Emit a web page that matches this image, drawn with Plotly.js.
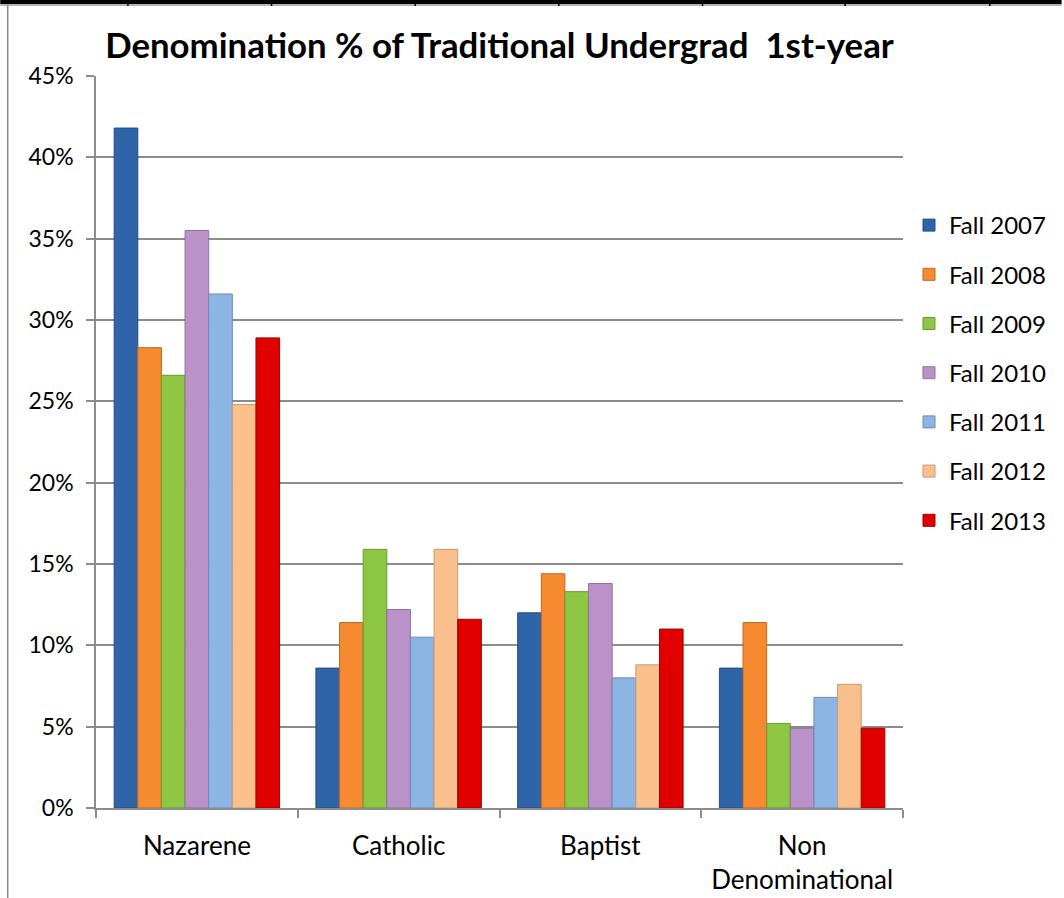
<!DOCTYPE html>
<html>
<head>
<meta charset="utf-8">
<script src="https://cdn.plot.ly/plotly-3.0.1.min.js"></script>
<style>
html,body{margin:0;padding:0;background:#fff;}
#chart{width:1064px;height:898px;}
</style>
</head>
<body>
<div id="chart"></div>
<script>
const categories = ["Nazarene", "Catholic", "Baptist", "Non<br>Denominational"];
const seriesNames = ["Fall 2007", "Fall 2008", "Fall 2009", "Fall 2010", "Fall 2011", "Fall 2012", "Fall 2013"];
const fall2007 = [0.418, 0.086, 0.120, 0.086];
const fall2008 = [0.283, 0.114, 0.144, 0.114];
const fall2009 = [0.266, 0.159, 0.133, 0.052];
const fall2010 = [0.355, 0.122, 0.138, 0.049];
const fall2011 = [0.316, 0.105, 0.080, 0.068];
const fall2012 = [0.248, 0.159, 0.088, 0.076];
const fall2013 = [0.289, 0.116, 0.110, 0.049];
const seriesValues = [fall2007, fall2008, fall2009, fall2010, fall2011, fall2012, fall2013];
const colors = ["#2f65a8", "#f58a30", "#8cc642", "#bb92c8", "#8db5e3", "#f9c08e", "#e00000"];
const lineColors = ["#234d80", "#c06a20", "#6a9a30", "#9070a0", "#6a8cb8", "#c89a70", "#a00000"];
const yTickVals = [0, 0.05, 0.10, 0.15, 0.20, 0.25, 0.30, 0.35, 0.40, 0.45];
const yTickText = ["0%", "5%", "10%", "15%", "20%", "25%", "30%", "35%", "40%", "45%"];

const FONT = "Lato, 'Liberation Sans', sans-serif";

const traces = seriesNames.map((name, i) => ({
  type: "bar",
  name: name,
  x: categories,
  y: seriesValues[i],
  legendgroup: "g" + i,
  marker: {color: colors[i], line: {color: lineColors[i], width: 1}},
  hoverinfo: "x+y+name"
}));

// page decoration (frame lines) in paper coords
const L = 96, R = 905, T = 76, B = 808;
const px = v => (v - L) / (R - L);
const py = v => (B - v) / (B - T);
const shapes = [
  {type: "line", xref: "paper", yref: "paper", x0: px(0), x1: px(1064), y0: py(2), y1: py(2), line: {color: "#000", width: 4}},
  {type: "line", xref: "paper", yref: "paper", x0: px(0), x1: px(1064), y0: py(5), y1: py(5), line: {color: "#999", width: 1.5}},
  {type: "line", xref: "paper", yref: "paper", x0: px(7.5), x1: px(7.5), y0: py(5), y1: py(898), line: {color: "#888", width: 1.5}}
];
[128, 272, 416, 560, 704, 847, 992].forEach(x => {
  shapes.push({type: "line", xref: "paper", yref: "paper", x0: px(x), x1: px(x), y0: py(0), y1: py(6), line: {color: "#000", width: 1.5}});
});

const layout = {
  width: 1064,
  height: 898,
  paper_bgcolor: "#fff",
  plot_bgcolor: "#fff",
  margin: {l: L, r: 1064 - R, t: T, b: 898 - B},
  font: {family: FONT, color: "#000"},
  title: {
    text: "<b>Denomination % of Traditional Undergrad  1st-year</b>",
    font: {family: FONT, size: 34.8, color: "#000"},
    x: 0.5, xanchor: "center", xref: "paper",
    y: 1 - 46 / 898, yanchor: "middle", yref: "container"
  },
  barmode: "group",
  bargap: 0.18,
  bargroupgap: 0,
  showlegend: true,
  legend: {
    x: px(911), xanchor: "left",
    y: py(373), yanchor: "middle",
    font: {family: FONT, size: 24, color: "#000"},
    traceorder: "grouped",
    tracegroupgap: 15,
    itemwidth: 30,
    bgcolor: "rgba(0,0,0,0)"
  },
  xaxis: {
    type: "category",
    showline: true, linecolor: "#8c8c8c", linewidth: 1.5,
    ticks: "outside", tickson: "boundaries", ticklen: 8, tickcolor: "#8c8c8c", tickwidth: 1.5,
    tickfont: {family: FONT, size: 26, color: "#000"},
    ticklabelstandoff: 14,
    showgrid: false,
    fixedrange: true
  },
  yaxis: {
    range: [0, 0.45],
    tickvals: yTickVals, ticktext: yTickText,
    showline: true, linecolor: "#8c8c8c", linewidth: 1.5,
    ticks: "outside", ticklen: 8, tickcolor: "#8c8c8c", tickwidth: 1.5,
    tickfont: {family: FONT, size: 23, color: "#000"},
    ticklabelstandoff: 8,
    showgrid: true, gridcolor: "#8c8c8c", gridwidth: 1.5,
    zeroline: false,
    fixedrange: true
  },
  shapes: shapes
};

Plotly.newPlot("chart", traces, layout, {displayModeBar: false, staticPlot: false});
</script>
</body>
</html>
